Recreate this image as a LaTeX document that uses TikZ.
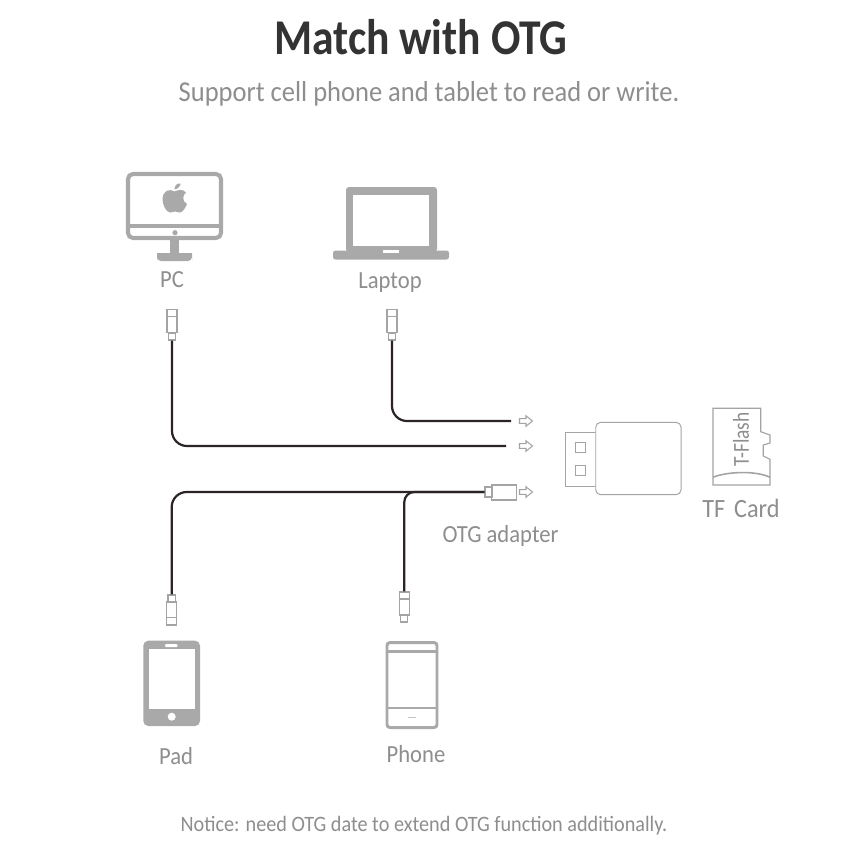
\documentclass[tikz,border=0pt]{standalone}
\usepackage{fontspec}
\setmainfont{Carlito}[FakeStretch=0.92]
\newfontfamily\ttlfont{Carlito}[FakeStretch=0.87]
\newfontfamily\cardfont{Carlito}[FakeStretch=0.85]
\definecolor{icon}{HTML}{A9A9A9}
\definecolor{lbl}{HTML}{8E8E8E}
\definecolor{cablec}{HTML}{2B2324}
\definecolor{linegray}{HTML}{A4A4A4}
\definecolor{ttl}{HTML}{333333}
\newcommand{\fsz}[1]{\fontsize{#1}{#1}\selectfont}
\tikzset{
  x=0.02cm,y=-0.02cm,
  lab/.style={text=lbl,inner sep=0pt,font=\fsz{14}},
  outline/.style={draw=linegray,line width=0.55pt,fill=white},
  plugpart/.style={draw=linegray,line width=0.65pt,fill=white,inner sep=0pt,rectangle},
  cable/.style={draw=cablec,line width=1.25pt,rounded corners=0.3cm},
  hollow/.pic={\draw[linegray,line width=0.6pt,fill=white] (-6.5,-2.4) -- (0,-2.4) -- (0,-5.2) -- (6.5,0) -- (0,5.2) -- (0,2.4) -- (-6.5,2.4) -- cycle;},
}
\begin{document}
\begin{tikzpicture}
\useasboundingbox (0,0) rectangle (850,850);
\fill[white] (0,0) rectangle (850,850);
% titles
\node[inner sep=0pt,text=ttl] (title) at (421,37) {\ttlfont\fsz{28.5}\bfseries Match with OTG};
\node[inner sep=0pt,text=lbl] (sub) at (429,94) {\fsz{16.4}Support cell phone and tablet to read or write.};
\node[inner sep=0pt,text=lbl] (notice) at (424,826) {\fsz{12.5}Notice: need OTG date to extend OTG function additionally.};
% PC
\draw[icon,line width=2.3pt,rounded corners=0.1cm,fill=white] (128,174) rectangle (221,238);
\draw[icon,line width=2.1pt] (128,226) -- (221,226);
\fill[icon] (175,232.7) circle (2.6);
\fill[icon] (170,240) rectangle (179,253);
\fill[icon,rounded corners=0.08cm] (157,261) -- (157,257) arc[start angle=180,end angle=270,radius=4] -- (188,253) arc[start angle=270,end angle=360,radius=4] -- (192,261) -- cycle;
% apple
\fill[icon] (174.5,191.5) .. controls (170,188.5) and (163,190) .. (162.5,199)
  .. controls (162.5,205) and (166,212) .. (170,212.5)
  .. controls (172,212.7) and (173,211.5) .. (175,211.5)
  .. controls (177,211.5) and (178,212.8) .. (180,212.5)
  .. controls (183,212) and (185.5,207.5) .. (187,204)
  .. controls (182.5,202) and (182,195) .. (186,192.5)
  .. controls (182.5,188.5) and (178,190) .. (174.5,191.5) -- cycle;
\fill[icon] (174.5,189.5) .. controls (174.5,185.5) and (177,183) .. (180.5,183.5)
  .. controls (180.5,186) and (178,189) .. (174.5,189.5) -- cycle;
\node[lab] (pclabel) at (172,280) {PC};
% Laptop
\fill[icon,rounded corners=0.06cm] (346,187) rectangle (437,252);
\fill[white] (353,195) rectangle (429,246);
\fill[icon,rounded corners=0.05cm] (333,250.5) rectangle (449,259.5);
\fill[white] (383,249.5) rectangle (399,252.5);
\node[lab] (laptoplabel) at (390,282.5) {Laptop};
% Pad
\fill[icon,rounded corners=0.1cm] (143.3,640.7) rectangle (200,726);
\fill[white] (148.7,649.3) rectangle (194.7,709.3);
\fill[white,rounded corners=0.02cm] (165,644) rectangle (177.5,647);
\fill[white] (171.7,716.7) circle (4);
\node[lab] (padlabel) at (176,756) {Pad};
% Phone
\draw[icon,line width=1.7pt,rounded corners=0.06cm,fill=white] (387,642.5) rectangle (437,727.5);
\draw[icon,line width=1.5pt] (387,651.7) -- (437,651.7);
\draw[icon,line width=1.1pt] (387,707.7) -- (437,707.7);
\fill[icon!70] (408,717) rectangle (416,718.3);
\node[lab] (phonelabel) at (416,754) {Phone};
% reader
\node[outline,rectangle,minimum width=0.64cm,minimum height=1.088cm,inner sep=0pt] (plug) at (581.2,459.5) {};
\node[outline,rectangle,rounded corners=0.1cm,minimum width=1.707cm,minimum height=1.448cm,inner sep=0pt] (reader) at (638.4,458.5) {};
\draw[linegray,line width=0.55pt] (575,442.3) rectangle (585.7,452.3);
\draw[linegray,line width=0.55pt] (575,465) rectangle (585.7,475);
% TF card
\draw[linegray,line width=0.65pt] (713,408.3) -- (760.7,408.3) -- (760.7,431.7) -- (770,435) -- (770,443) -- (763.3,445) -- (763.3,456) -- (770,459.3) -- (770,485) -- (713,485) -- cycle;
\draw[linegray,line width=0.9pt] (713,477.3) .. controls (725,472) and (755,470) .. (770,477.3);
\node[inner sep=0pt,text=lbl,rotate=90] (tflash) at (741,439.5) {\cardfont\fsz{13}T-Flash};
\node[lab,font=\fsz{15}] (tflabel) at (741,508) {TF\,\,Card};
\node[lab] (otglabel) at (500.5,536) {OTG adapter};
% plugs
\node[plugpart,minimum width=0.2cm,minimum height=0.47cm] (pcbody) at (172,321) {};
\node[plugpart,minimum width=0.13cm,minimum height=0.14cm] (pccollar) at (172,336.5) {};
\draw[linegray,line width=0.65pt] (pcbody.west |- 0,316.7) -- (pcbody.east |- 0,316.7);
\node[plugpart,minimum width=0.2cm,minimum height=0.47cm] (lapbody) at (392,321) {};
\node[plugpart,minimum width=0.13cm,minimum height=0.14cm] (lapcollar) at (392,336.5) {};
\draw[linegray,line width=0.65pt] (lapbody.west |- 0,316.7) -- (lapbody.east |- 0,316.7);
\node[plugpart,minimum width=0.2cm,minimum height=0.46cm] (padbody) at (171.7,613.5) {};
\node[plugpart,minimum width=0.15cm,minimum height=0.14cm] (padcollar) at (171.7,598.5) {};
\draw[linegray,line width=0.65pt] (padbody.west |- 0,617.7) -- (padbody.east |- 0,617.7);
\node[plugpart,minimum width=0.2cm,minimum height=0.46cm] (phonebody) at (404.3,603.5) {};
\node[plugpart,minimum width=0.14cm,minimum height=0.14cm] (phonecollar) at (404.3,618.5) {};
\draw[linegray,line width=0.65pt] (phonebody.west |- 0,599) -- (phonebody.east |- 0,599);
\node[plugpart,minimum width=0.5cm,minimum height=0.3cm] (otgbody) at (504.2,492.5) {};
\node[plugpart,minimum width=0.14cm,minimum height=0.2cm] (otgcollar) at (488.5,492) {};
% arrows
\pic at (526,421) {hollow};
\pic at (526,446) {hollow};
\pic at (526,492) {hollow};
\coordinate (enda) at (511,421);
\coordinate (endb) at (506,446);
% cables
\draw[cable] (lapcollar.south) |- (enda);
\draw[cable] (pccollar.south) |- (endb);
\draw[cable] (padcollar.north) |- (otgcollar.west);
\draw[cable,rounded corners=0.2cm] (phonebody.north) |- (otgcollar.west);
\end{tikzpicture}
\end{document}
